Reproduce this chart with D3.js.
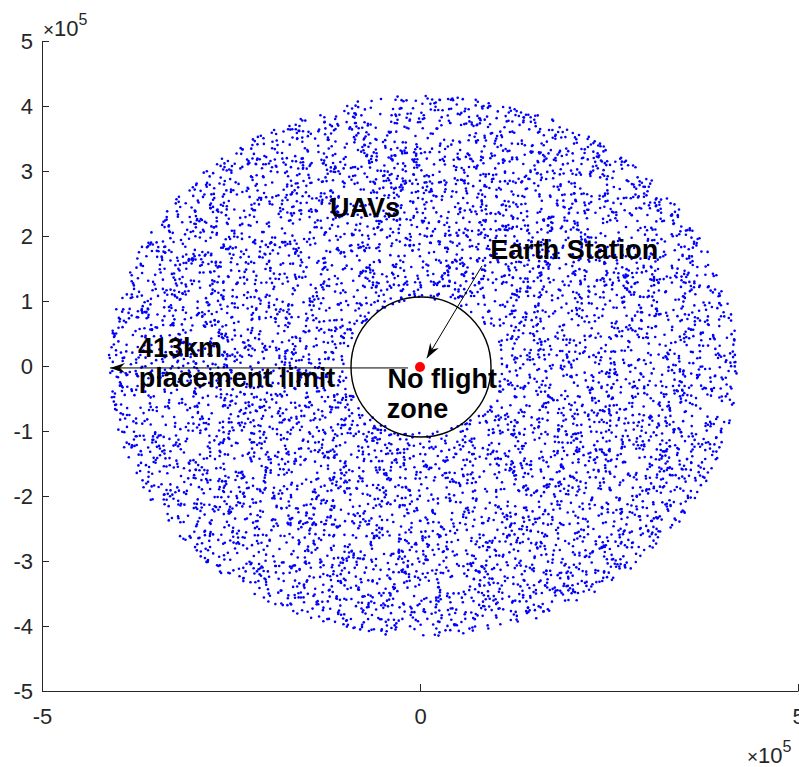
<!DOCTYPE html>
<html>
<head>
<meta charset="utf-8">
<script src="https://cdn.jsdelivr.net/npm/d3@7"></script>
<style>
  body { margin: 0; background: #fff; }
  svg { display: block; font-family: "Liberation Sans", Arial, sans-serif; }
  .tick text { fill: #262626; font-size: 22px; }
  .domain, .tick line { stroke: #262626; }
  .annot { font-weight: bold; font-size: 27px; fill: #000; }
  .expo { fill: #262626; font-size: 22px; }
</style>
</head>
<body>
<svg id="Vis1" width="799" height="767"></svg>
<script>
// axis ticks (in units of 10^5 m)
const xTicks = [-5, 0, 5];
const yTicks = [-5, -4, -3, -2, -1, 0, 1, 2, 3, 4, 5];
const tickExponent = 5;

// UAV placement region (metres)
const uavCount = 7000;
const cloudCenter = [4000, 0];
const noFlightRadius = 103000;
const placementLimit = 416000;
const stationPos = [0, 0];

// annotation texts, anchored by their left baseline in data units
const labelText = ["UAVs", "Earth Station", "413km", "placement limit", "No flight", "zone"];
const labelX = [-119000, 93000, -373000, -372000, -43000, -44000];
const labelY = [229000, 164600, 13800, -32300, -33800, -80000];

// arrows: [x1, y1, x2, y2] with the head at (x2, y2)
const arrows = [
  [-16000, -3000, -410000, -3000],
  [82000, 154000, 9000, 12000]
];

/*
* Draw the Scatter Chart
*/
let drawScatterChart = function() {

  let svg = d3.select("body").select("svg#Vis1");

  const margin = {
    top: 41,
    bottom: 76,
    left: 42,
    right: 1
  };

  const width = 799;
  const height = 767;
  let plotWidth = width - margin.left - margin.right;
  let plotHeight = height - margin.top - margin.bottom;

  const unit = Math.pow(10, tickExponent);

  let xScale = d3.scaleLinear()
    .domain([-5 * unit, 5 * unit])
    .range([0, plotWidth]);

  let yScale = d3.scaleLinear()
    .domain([-5 * unit, 5 * unit])
    .range([plotHeight, 0]);

  const plot = svg.append("g").attr("id", "plot");
  plot.attr("transform", translate(margin.left, margin.top));

  // seeded sampler for the UAV cloud (positions in the picture cannot be read one by one)
  let rand = mulberry32(413);
  let uavs = [];
  for (let i = 0; i < uavCount; i++) {
    let r = Math.sqrt(noFlightRadius * noFlightRadius +
      rand() * (placementLimit * placementLimit - noFlightRadius * noFlightRadius));
    let t = 2 * Math.PI * rand();
    uavs.push([cloudCenter[0] + r * Math.cos(t), cloudCenter[1] + r * Math.sin(t)]);
  }

  plot.append("g").attr("id", "uavs")
    .selectAll("circle")
    .data(uavs)
    .enter()
    .append("circle")
    .attr("cx", d => xScale(d[0]))
    .attr("cy", d => yScale(d[1]))
    .attr("r", 1.3)
    .attr("fill", "#0000ff");

  let xAxis = d3.axisBottom(xScale)
    .tickValues(xTicks.map(d => d * unit))
    .tickFormat(d => String(d / unit))
    .tickSizeInner(-7)
    .tickSizeOuter(0)
    .tickPadding(17);

  let yAxis = d3.axisLeft(yScale)
    .tickValues(yTicks.map(d => d * unit))
    .tickFormat(d => String(d / unit))
    .tickSizeInner(-7)
    .tickSizeOuter(0)
    .tickPadding(9);

  let xGroup = plot.append("g").attr("id", "x-axis");
  xGroup.call(xAxis);
  xGroup.attr("transform", translate(0, plotHeight));

  let yGroup = plot.append("g").attr("id", "y-axis");
  yGroup.call(yAxis);

  plot.selectAll(".tick text").attr("font-size", null).attr("font-family", null);

  // exponent labels
  const topExpo = svg.append("text").attr("class", "expo")
    .attr("x", margin.left + 1).attr("y", 36);
  topExpo.append("tspan").text("\u00d7").attr("font-size", 19);
  topExpo.append("tspan").text("10");
  topExpo.append("tspan").text(String(tickExponent)).attr("font-size", 16).attr("dy", -11);

  const botExpo = svg.append("text").attr("class", "expo")
    .attr("x", 747).attr("y", 763);
  botExpo.append("tspan").text("\u00d7").attr("font-size", 19);
  botExpo.append("tspan").text("10");
  botExpo.append("tspan").text(String(tickExponent)).attr("font-size", 16).attr("dy", -11);

  // no flight zone
  plot.append("circle")
    .attr("cx", xScale(stationPos[0]) + 1)
    .attr("cy", yScale(stationPos[1]) + 1)
    .attr("r", 70)
    .attr("fill", "none")
    .attr("stroke", "#000")
    .attr("stroke-width", 1.4);

  // arrow heads
  svg.append("defs").append("marker")
    .attr("id", "head")
    .attr("viewBox", "-16 -6 17 12")
    .attr("refX", 0)
    .attr("refY", 0)
    .attr("markerWidth", 17)
    .attr("markerHeight", 12)
    .attr("markerUnits", "userSpaceOnUse")
    .attr("orient", "auto")
    .append("path")
    .attr("d", "M0,0L-15,-5L-10,0L-15,5Z")
    .attr("fill", "#000");

  plot.append("g").attr("id", "arrows")
    .selectAll("line")
    .data(arrows)
    .enter()
    .append("line")
    .attr("x1", d => xScale(d[0]))
    .attr("y1", d => yScale(d[1]))
    .attr("x2", d => xScale(d[2]))
    .attr("y2", d => yScale(d[3]))
    .attr("stroke", "#000")
    .attr("stroke-width", 1)
    .attr("marker-end", "url(#head)");

  // earth station
  plot.append("circle")
    .attr("cx", xScale(stationPos[0]))
    .attr("cy", yScale(stationPos[1]) + 1)
    .attr("r", 5)
    .attr("fill", "#ff0000");

  plot.append("g").attr("id", "labels")
    .selectAll("text")
    .data(labelText)
    .enter()
    .append("text")
    .attr("class", "annot")
    .attr("x", (d, i) => xScale(labelX[i]))
    .attr("y", (d, i) => yScale(labelY[i]))
    .text(d => d);

}

drawScatterChart();

/*
 * small seeded random generator so the cloud is the same on every run
 */
function mulberry32(a) {
  return function() {
    a |= 0; a = a + 0x6D2B79F5 | 0;
    let t = Math.imul(a ^ a >>> 15, 1 | a);
    t = t + Math.imul(t ^ t >>> 7, 61 | t) ^ t;
    return ((t ^ t >>> 14) >>> 0) / 4294967296;
  };
}

/*
 * returns a translate string for the transform attribute
 */
function translate(x, y) {
  return 'translate(' + String(x) + ',' + String(y) + ')';
}
</script>
</body>
</html>
